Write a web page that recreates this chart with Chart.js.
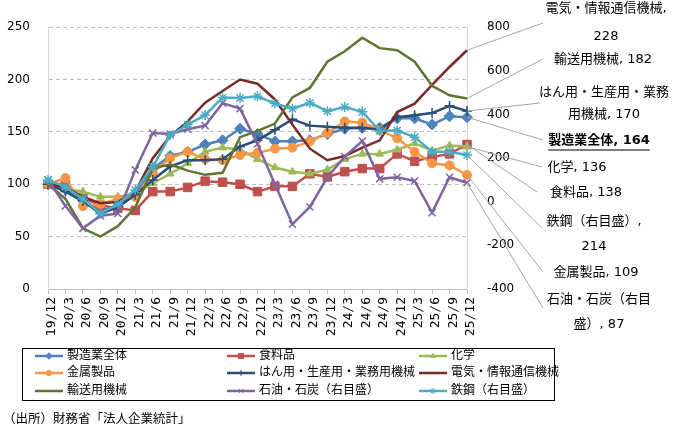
<!DOCTYPE html>
<html lang="ja">
<head>
<meta charset="utf-8">
<script src="https://cdn.jsdelivr.net/npm/chart.js@4.4.1/dist/chart.umd.min.js"></script>
<style>
  html, body { margin: 0; padding: 0; background: #fff; }
  #wrap { width: 683px; height: 427px; }
</style>
</head>
<body>
<div id="wrap"><canvas id="chart" width="683" height="427"></canvas></div>
<script>
// --- Datos (índice, 2019/12 = 100) ---
const periods = ["19/12","20/3","20/6","20/9","20/12","21/3","21/6","21/9","21/12","22/3","22/6","22/9",
  "22/12","23/3","23/6","23/9","23/12","24/3","24/6","24/9","24/12","25/3","25/6","25/9","25/12"];

const seizo    = [100, 95, 85, 75, 79, 91, 115, 127, 131, 138, 142, 153, 148, 141, 141, 142, 148, 153, 154, 154, 163, 163, 157, 165, 164];
const shokuryo = [100, 100, 87, 80, 77, 75, 93, 93, 97, 103, 102, 100, 93, 98, 98, 110, 107, 112, 115, 115, 129, 122, 126, 129, 138];
const kagaku   = [100, 96, 93, 88, 88, 91, 101, 110, 120, 131, 135, 133, 124, 116, 112, 110, 114, 124, 129, 129, 133, 139, 132, 137, 136];
const kinzoku  = [100, 106, 79, 81, 86, 88, 111, 125, 131, 124, 123, 128, 130, 134, 135, 141, 149, 160, 159, 152, 144, 131, 120, 118, 109];
const hanyo    = [100, 93, 84, 72, 78, 90, 104, 117, 123, 123, 124, 136, 142, 152, 162, 156, 155, 154, 154, 152, 164, 166, 168, 175, 170];
const denki    = [100, 97, 88, 82, 83, 93, 125, 146, 160, 178, 189, 200, 196, 181, 157, 134, 123, 127, 135, 142, 169, 177, 195, 212, 228];
const yuso     = [100, 86, 58, 50, 60, 78, 115, 119, 113, 109, 111, 145, 151, 158, 183, 192, 217, 227, 240, 230, 228, 217, 194, 185, 182];
// eje derecho
const sekiyu   = [100, -19, -122, -64, -54, 146, 315, 310, 332, 349, 452, 427, 265, 80, -103, -24, 112, 207, 278, 105, 112, 95, -50, 112, 87];
const tekko    = [100, 68, 13, -54, -11, 54, 160, 305, 354, 397, 478, 475, 483, 450, 426, 453, 415, 434, 412, 325, 327, 296, 229, 229, 214];

const seriesNames = ["製造業全体", "食料品", "化学", "金属製品", "はん用・生産用・業務用機械",
  "電気・情報通信機械", "輸送用機械", "石油・石炭（右目盛）", "鉄鋼（右目盛）"];
const seriesValues = [seizo, shokuryo, kagaku, kinzoku, hanyo, denki, yuso, sekiyu, tekko];
const onRightAxis = [false, false, false, false, false, false, false, true, true];

const leftTicks = [0, 50, 100, 150, 200, 250];
const rightTicks = [-400, -200, 0, 200, 400, 600, 800];

// --- Estilos ---
const FONT = "'DejaVu Sans', 'Noto Sans CJK JP', sans-serif";
const styles = [
  { color: "#4F81BD", point: "rectRot", r: 5.5, bw: 1 },
  { color: "#C0504D", point: "rect", r: 6, bw: 1 },
  { color: "#9BBB59", point: "triangle", r: 4.5, bw: 1 },
  { color: "#F79646", point: "circle", r: 4.5, bw: 1 },
  { color: "#2C4D75", point: "cross", r: 5, bw: 1.5 },
  { color: "#772C2A", point: false, r: 0, bw: 0 },
  { color: "#5F7530", point: false, r: 0, bw: 0 },
  { color: "#8064A2", point: "crossRot", r: 5, bw: 1.5 },
  { color: "#4BACC6", point: "star", r: 5, bw: 1.5 },
];

// rótulos a la derecha (posición del texto y punto final de la guía)
const calloutSpec = [
  { ds: 5, text: (v) => ["電気・情報通信機械,", `${v}`], x: 606, y: [9, 37], to: [543, 23] },
  { ds: 6, text: (v) => [`輸送用機械, ${v}`], x: 603, y: [60], to: [543, 59] },
  { ds: 4, text: (v) => ["はん用・生産用・業務", `用機械, ${v}`], x: 604, y: [93, 115], to: [540, 103] },
  { ds: 0, text: (v) => [`製造業全体, ${v}`], x: 599, y: [141], to: [543, 140], bold: true },
  { ds: 2, text: (v) => [`化学, ${v}`], x: 577, y: [168], to: [542, 167] },
  { ds: 1, text: (v) => [`食料品, ${v}`], x: 586, y: [193], to: [537, 192] },
  { ds: 8, text: (v) => ["鉄鋼（右目盛）,", `${v}`], x: 594, y: [222, 247], to: [542, 228] },
  { ds: 3, text: (v) => [`金属製品, ${v}`], x: 596, y: [273], to: [543, 272] },
  { ds: 7, text: (v) => ["石油・石炭（右目", `盛）, ${v}`], x: 599, y: [300, 325], to: [543, 308] },
];

const extrasPlugin = {
  id: "extras",
  afterDraw(chart) {
    const { ctx } = chart;
    ctx.save();

    // --- guías + rótulos
    calloutSpec.forEach((spec) => {
      const meta = chart.getDatasetMeta(spec.ds);
      const pt = meta.data[meta.data.length - 1];
      const vals = chart.data.datasets[spec.ds].data;
      const last = vals[vals.length - 1];

      ctx.strokeStyle = "#a6a6a6";
      ctx.lineWidth = 1;
      ctx.beginPath();
      ctx.moveTo(pt.x, pt.y);
      ctx.lineTo(spec.to[0], spec.to[1]);
      ctx.stroke();

      ctx.fillStyle = "#000";
      ctx.textAlign = "center";
      ctx.textBaseline = "middle";
      ctx.font = (spec.bold ? "bold " : "") + "13px " + FONT;
      spec.text(last).forEach((line, k) => {
        ctx.fillText(line, spec.x, spec.y[k]);
        if (spec.bold) {
          const w = ctx.measureText(line).width;
          ctx.strokeStyle = "#000";
          ctx.lineWidth = 1.2;
          ctx.beginPath();
          ctx.moveTo(spec.x - w / 2, spec.y[k] + 9);
          ctx.lineTo(spec.x + w / 2, spec.y[k] + 9);
          ctx.stroke();
        }
      });
    });

    // --- leyenda
    const cols = [35, 227, 419];
    const rows = [356, 373, 391];
    ctx.strokeStyle = "#000";
    ctx.lineWidth = 1;
    ctx.strokeRect(22.5, 348.5, 532, 52);
    seriesNames.forEach((name, i) => {
      const st = styles[i];
      const x = cols[i % 3];
      const y = rows[Math.floor(i / 3)];
      ctx.strokeStyle = st.color;
      ctx.fillStyle = st.color;
      ctx.lineWidth = 2.5;
      ctx.beginPath();
      ctx.moveTo(x, y);
      ctx.lineTo(x + 28, y);
      ctx.stroke();
      if (st.point) {
        ctx.lineWidth = 1;
        Chart.helpers.drawPoint(ctx, { pointStyle: st.point, radius: st.r * 0.6, rotation: 0, borderWidth: 1 }, x + 14, y);
      }
      ctx.fillStyle = "#000";
      ctx.textAlign = "left";
      ctx.textBaseline = "middle";
      ctx.font = "12px " + FONT;
      ctx.fillText(name, x + 32, y);
    });

    // --- fuente
    ctx.font = "12.5px " + FONT;
    ctx.fillText("（出所）財務省「法人企業統計」", 3, 420);
    ctx.restore();
  },
};

const datasets = seriesValues.map((vals, i) => ({
  label: seriesNames[i],
  data: vals,
  yAxisID: onRightAxis[i] ? "y2" : "y",
  borderColor: styles[i].color,
  backgroundColor: styles[i].color,
  borderWidth: 2.5,
  pointStyle: styles[i].point,
  pointRadius: styles[i].r,
  pointBackgroundColor: styles[i].color,
  pointBorderColor: styles[i].color,
  pointBorderWidth: styles[i].bw,
  tension: 0,
  fill: false,
  clip: false,
  order: seriesValues.length - i,
}));

new Chart(document.getElementById("chart"), {
  type: "line",
  data: { labels: periods, datasets },
  options: {
    responsive: false,
    animation: false,
    devicePixelRatio: 1,
    layout: { padding: { top: 15, left: 0, right: 0, bottom: 0 } },
    plugins: { legend: { display: false }, tooltip: { enabled: false } },
    scales: {
      x: {
        offset: false,
        grid: { drawOnChartArea: false, drawTicks: true, tickLength: 5, color: "#bfbfbf" },
        border: { color: "#bfbfbf", width: 1 },
        ticks: {
          autoSkip: false,
          minRotation: 90,
          maxRotation: 90,
          padding: 3,
          labelOffset: 4,
          color: "#000",
          font: { family: "'DejaVu Sans Mono', monospace", size: 13 },
        },
        afterFit: (s) => { s.height = 138; },
      },
      y: {
        position: "left",
        min: 0,
        max: 250,
        afterBuildTicks: (s) => { s.ticks = leftTicks.map((v) => ({ value: v })); },
        ticks: { padding: 18, color: "#000", font: { family: FONT, size: 12 } },
        grid: {
          drawTicks: false,
          color: (c) => (c.tick && c.tick.value === 0 ? "rgba(0,0,0,0)" : "#bfbfbf"),
        },
        border: { color: "#d9d9d9", width: 1, dash: [4, 3] },
        afterFit: (s) => { s.width = 48; },
      },
      y2: {
        position: "right",
        min: -400,
        max: 800,
        afterBuildTicks: (s) => { s.ticks = rightTicks.map((v) => ({ value: v })); },
        ticks: { padding: 20, color: "#000", font: { family: FONT, size: 12 } },
        grid: { drawOnChartArea: false, drawTicks: false },
        border: { color: "#d9d9d9", width: 1 },
        afterFit: (s) => { s.width = 216; },
      },
    },
  },
  plugins: [extrasPlugin],
});
</script>
</body>
</html>
